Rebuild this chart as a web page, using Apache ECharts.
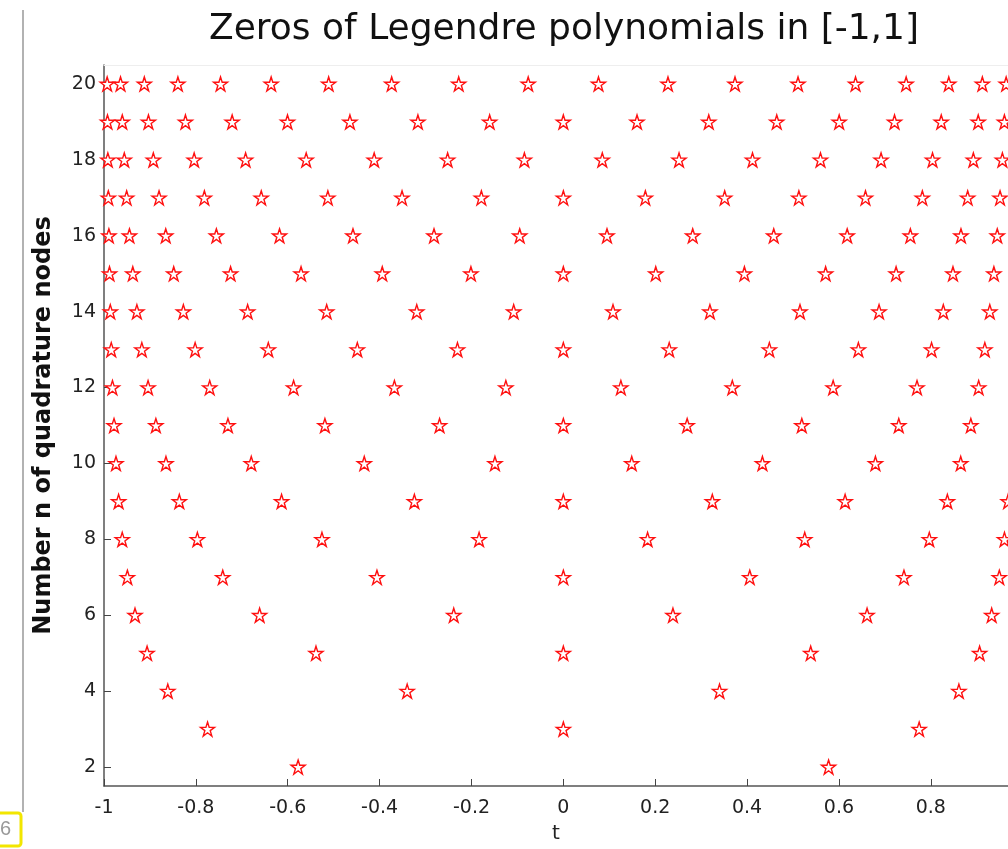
<!DOCTYPE html>
<html lang="en">
<head>
    <meta charset="UTF-8">
    <title>Zeros of Legendre polynomials</title>
    <style>
        * { padding: 0; margin: 0; }
        html, body { height: 100%; width: 100%; background: #fff; }
        #chart { width: 1008px; height: 849px; }
    </style>
</head>
<body>
    <div id="chart"></div>
    <script src="https://cdn.jsdelivr.net/npm/echarts@6/dist/echarts.min.js"></script>
    <script type="text/javascript">
        // zeros of P_n on [-1,1] (n = 2 .. 20)
        const n2 = [-0.5774, 0.5774];
        const n3 = [-0.7746, 0, 0.7746];
        const n4 = [-0.8611, -0.3400, 0.3400, 0.8611];
        const n5 = [-0.9062, -0.5385, 0, 0.5385, 0.9062];
        const n6 = [-0.9325, -0.6612, -0.2386, 0.2386, 0.6612, 0.9325];
        const n7 = [-0.9491, -0.7415, -0.4058, 0, 0.4058, 0.7415, 0.9491];
        const n8 = [-0.9603, -0.7967, -0.5255, -0.1834, 0.1834, 0.5255, 0.7967, 0.9603];
        const n9 = [-0.9682, -0.8360, -0.6134, -0.3243, 0, 0.3243, 0.6134, 0.8360, 0.9682];
        const n10 = [-0.9739, -0.8651, -0.6794, -0.4334, -0.1489, 0.1489, 0.4334, 0.6794, 0.8651, 0.9739];
        const n11 = [-0.9782, -0.8871, -0.7302, -0.5191, -0.2695, 0, 0.2695, 0.5191, 0.7302, 0.8871, 0.9782];
        const n12 = [-0.9816, -0.9041, -0.7699, -0.5873, -0.3678, -0.1252, 0.1252, 0.3678, 0.5873, 0.7699, 0.9041, 0.9816];
        const n13 = [-0.9842, -0.9176, -0.8016, -0.6423, -0.4485, -0.2305, 0, 0.2305, 0.4485, 0.6423, 0.8016, 0.9176, 0.9842];
        const n14 = [-0.9863, -0.9284, -0.8272, -0.6873, -0.5152, -0.3191, -0.1081, 0.1081, 0.3191, 0.5152, 0.6873, 0.8272, 0.9284, 0.9863];
        const n15 = [-0.9880, -0.9373, -0.8482, -0.7244, -0.5710, -0.3942, -0.2012, 0, 0.2012, 0.3942, 0.5710, 0.7244, 0.8482, 0.9373, 0.9880];
        const n16 = [-0.9894, -0.9446, -0.8656, -0.7554, -0.6179, -0.4580, -0.2816, -0.0950, 0.0950, 0.2816, 0.4580, 0.6179, 0.7554, 0.8656, 0.9446, 0.9894];
        const n17 = [-0.9906, -0.9507, -0.8802, -0.7815, -0.6577, -0.5127, -0.3512, -0.1785, 0, 0.1785, 0.3512, 0.5127, 0.6577, 0.7815, 0.8802, 0.9507, 0.9906];
        const n18 = [-0.9916, -0.9558, -0.8926, -0.8037, -0.6917, -0.5598, -0.4118, -0.2519, -0.0848, 0.0848, 0.2519, 0.4118, 0.5598, 0.6917, 0.8037, 0.8926, 0.9558, 0.9916];
        const n19 = [-0.9924, -0.9602, -0.9032, -0.8227, -0.7210, -0.6005, -0.4646, -0.3166, -0.1604, 0, 0.1604, 0.3166, 0.4646, 0.6005, 0.7210, 0.8227, 0.9032, 0.9602, 0.9924];
        const n20 = [-0.9931, -0.9640, -0.9122, -0.8391, -0.7463, -0.6361, -0.5109, -0.3737, -0.2278, -0.0765, 0.0765, 0.2278, 0.3737, 0.5109, 0.6361, 0.7463, 0.8391, 0.9122, 0.9640, 0.9931];

        const nodeCounts = [2, 3, 4, 5, 6, 7, 8, 9, 10, 11, 12, 13, 14, 15, 16, 17, 18, 19, 20];
        const zeroRows = [n2, n3, n4, n5, n6, n7, n8, n9, n10, n11, n12, n13, n14, n15, n16, n17, n18, n19, n20];
        // the plot is cut off at the right edge, so the t = 1 tick is not visible
        const xTicks = [-1, -0.8, -0.6, -0.4, -0.2, 0, 0.2, 0.4, 0.6, 0.8];
        const yTicks = [2, 4, 6, 8, 10, 12, 14, 16, 18, 20];

        let points = [];
        zeroRows.forEach((row, i) => {
            row.forEach(t => points.push([t, nodeCounts[i]]));
        });

        const star = 'path://M50,2 L61,36 L97,36 L68,57 L79,92 L50,71 L21,92 L32,57 L3,36 L39,36 Z';
        const font = '"DejaVu Sans", "Liberation Sans", Arial, sans-serif';

        var myChart = echarts.init(document.getElementById('chart'));
        var option = {
            backgroundColor: '#fff',
            animation: false,
            title: {
                text: 'Zeros of Legendre polynomials in [-1,1]',
                left: 559,
                textAlign: 'center',
                top: 7,
                textStyle: { fontFamily: font, fontSize: 36, fontWeight: 'normal', color: '#111' }
            },
            grid: {
                left: 104,
                top: 65,
                right: 0,
                bottom: 61
            },
            xAxis: [{
                type: 'value',
                min: -1,
                max: 0.968,
                name: 't',
                nameLocation: 'middle',
                nameGap: 38,
                nameTextStyle: { fontFamily: font, fontSize: 20, color: '#222' },
                axisLine: { onZero: false, lineStyle: { color: '#555', width: 1.5 } },
                axisTick: { inside: true, length: 7, lineStyle: { color: '#444' }, customValues: xTicks },
                axisLabel: {
                    margin: 13,
                    fontFamily: font, fontSize: 19, color: '#222',
                    customValues: xTicks,
                    formatter: v => String(Math.round(v * 10) / 10)
                },
                splitLine: { show: false }
            }, {
                // faint top edge of the axes box
                type: 'value',
                position: 'top',
                min: -1,
                max: 0.968,
                axisLine: { show: true, onZero: false, lineStyle: { color: '#eee', width: 1 } },
                axisTick: { show: false },
                axisLabel: { show: false },
                splitLine: { show: false }
            }],
            yAxis: {
                type: 'value',
                min: 1.5,
                max: 20.5,
                name: 'Number n of quadrature nodes',
                nameLocation: 'middle',
                nameGap: 48,
                nameTextStyle: { fontFamily: font, fontSize: 24, fontWeight: 'bold', color: '#111' },
                axisLine: { onZero: false, lineStyle: { color: '#555', width: 1.5 } },
                axisTick: { inside: true, length: 7, lineStyle: { color: '#444' }, customValues: yTicks },
                axisLabel: {
                    margin: 8,
                    fontFamily: font, fontSize: 19, color: '#222',
                    customValues: yTicks
                },
                splitLine: { show: false }
            },
            graphic: [
                // window border and tab leftovers on the left edge
                { type: 'line', shape: { x1: 23, y1: 10, x2: 23, y2: 812 }, style: { stroke: '#999', lineWidth: 1.5 } },
                { type: 'rect', shape: { x: -3, y: 813, width: 24, height: 33, r: 3 }, style: { fill: '#fff', stroke: '#f2e600', lineWidth: 3 } },
                { type: 'text', left: 0, top: 819, style: { text: '6', fill: '#999', font: '20px "Liberation Sans", Arial, sans-serif' } }
            ],
            series: [{
                type: 'scatter',
                xAxisIndex: 0,
                data: points,
                symbol: star,
                symbolSize: 14,
                itemStyle: { color: '#fff', borderColor: '#ff1010', borderWidth: 1.4, opacity: 1 }
            }]
        };
        myChart.setOption(option);
    </script>
</body>
</html>
